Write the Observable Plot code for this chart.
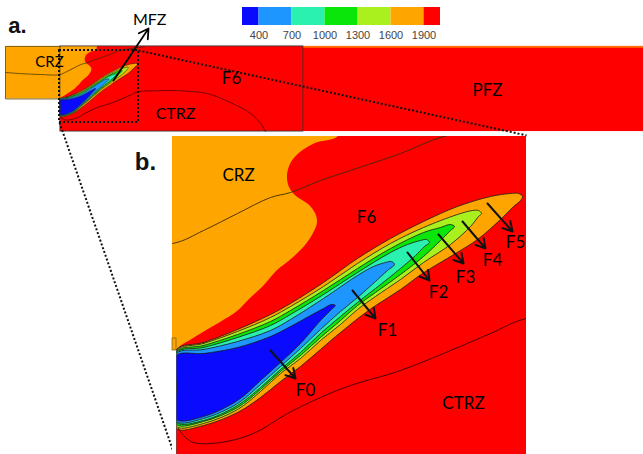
<!DOCTYPE html>
<html><head><meta charset="utf-8">
<script src="https://cdn.jsdelivr.net/npm/d3@7"></script>
<script src="https://cdn.jsdelivr.net/npm/@observablehq/plot@0.6"></script>
<style>
html,body{margin:0;padding:0;background:#fff;overflow:hidden;}
#fig{position:relative;width:643px;height:454px;}
#fig svg{position:absolute;left:0;top:0;}
</style></head><body><div id="fig"></div>
<script>
// ---- temperature colour levels (K) ----
const thresholds = [400, 700, 1000, 1300, 1600, 1900];
const palette = ["#0a0aff", "#1e96ff", "#2af0b0", "#0ae60a", "#aaf01e", "#ffa500", "#ff0000"];
const colorbarEdges = [250, 400, 700, 1000, 1300, 1600, 1900, 2050];
// representative temperature of each contour band
const tBlue = 300, tLightBlue = 550, tTeal = 850, tGreen = 1150, tYellowGreen = 1450, tOrange = 1750, tRed = 2000;

// ---- geometry, in zoom-window units (panel b = zoom of the dotted box) ----
const zoomX = [0, 354];
const zoomY = [0, 318];
const inletBox = [-242, 4, -18, 214];      // x1, x2, y1, y2
const chamberBox = [4, 2617, -18, 358];
const outlineBox = [4, 1093, -18, 358];
const pfzTopStrip = [1093, 2617, -18, -10];
const stepLip = [0, 4, 202, 214];
const wallGap = [0, 4, 214, 318];

// CRZ (orange) boundary, x as function of y
const crzBoundary = [[170,-18],[166,0],[143,7],[128,16],[119,26],[115,39],[117,51],[124,60],[136,68],[143,77],[145,86],[141,97],[133,109],[120,122],[104,135],[91,150],[78,162],[65,175],[48,186],[31,196],[18,204],[8,210],[4,214]];

// flame contour bands (closed outlines: upper edge to tip, lower edge back to wall)
const flameOrange = [[4,213],[31,206],[65,193],[98,178],[118,167],[151,146],[185,122],[218,102],[251,85],[285,70],[318,60],[338,57],[346,57],[350,60],[348,64],[340,71],[328,83],[305,103],[283,117],[250,137],[228,153],[196,174],[168,196],[148,213],[128,230],[108,245],[88,261],[65,276],[31,289],[4,292],[4,252]];
const flameYellowGreen = [[4,214],[31,207],[65,195],[98,181],[118,170],[151,150],[185,127],[218,107],[251,91],[285,78],[300,74],[306,74],[309,77],[306,80],[298,90],[278,108],[251,126],[228,143],[203,160],[185,173],[168,188],[148,204],[128,222],[108,237],[88,255],[65,273],[31,287],[4,290],[4,252]];
const flameGreen = [[4,215],[31,209],[65,198],[98,185],[118,174],[151,154],[185,132],[218,112],[251,96],[268,91],[278,88],[282,90],[278,94],[268,104],[251,120],[228,138],[203,156],[185,169],[168,184],[148,201],[128,219],[108,235],[88,253],[65,271],[31,285],[4,288],[4,251]];
const flameTeal = [[4,216],[31,211],[65,201],[98,189],[118,178],[151,158],[185,136],[218,116],[235,108],[248,104],[254,103],[257,106],[252,110],[243,119],[228,132],[203,152],[185,166],[168,180],[148,197],[128,216],[108,233],[88,251],[65,269],[31,284],[4,286],[4,250]];
const flameLightBlue = [[4,217],[31,213],[65,205],[98,194],[118,183],[151,162],[185,139],[201,130],[213,126],[219,125],[222,128],[215,134],[203,145],[185,161],[168,175],[148,193],[128,212],[108,230],[88,248],[65,267],[31,282],[4,285],[4,250]];
const flameBlue = [[4,219],[31,217],[65,211],[98,200],[118,190],[138,179],[151,172],[159,168],[163,169],[160,172],[148,184],[128,207],[108,226],[88,244],[65,264],[31,280],[4,283],[4,250]];

// iso-lines
const crzLine = [[-242,97],[-175,102],[-85,106],[0,107],[31,94],[65,77],[98,61],[118,56],[148,44],[178,34],[228,17],[271,0],[330,-10],[380,-17]];
const ctrzLine = [[6,292],[11,299],[21,306],[48,306],[81,297],[115,277],[148,261],[178,249],[228,234],[278,214],[318,197],[354,182],[430,178],[511,177],[590,181],[663,190],[766,230],[856,278],[901,322],[923,358]];

// panel b annotations
const bLabels = ["CRZ", "F6", "F0", "F1", "F2", "F3", "F4", "F5", "CTRZ"];
const bLabelX = [66, 194, 133, 215, 266, 293, 320, 343, 291];
const bLabelY = [39, 81, 254, 194, 156, 141, 124, 106, 267];
const fArrowX1 = [98, 180, 235, 266, 290, 315];
const fArrowY1 = [214, 154, 116, 98, 85, 67];
const fArrowX2 = [123, 203, 257, 291, 313, 340];
const fArrowY2 = [242, 182, 144, 127, 112, 95];

// panel a annotations
const aLabels = ["CRZ", "F6", "CTRZ", "PFZ", "MFZ"];
const aLabelX = [-45, 771, 520, 1918, 404];
const aLabelY = [53, 124, 278, 177, -137];
const aLabelSize = [15, 17, 16, 17, 16];
const mfzArrow = [242, 133, 399, -97];
const connectors = [[354, 0, 2093, 375], [0, 318, 515, 1785]];

const colorOpts = {type: "threshold", domain: thresholds, range: palette};
const fontLbl = "Lato, 'Open Sans', sans-serif";
const P = (d) => d[0], Q = (d) => d[1];

const bands = [
  [flameOrange, tOrange], [flameYellowGreen, tYellowGreen], [flameGreen, tGreen],
  [flameTeal, tTeal], [flameLightBlue, tLightBlue], [flameBlue, tBlue]
];
const bandMarks = (sw, clip) => bands.map(([pts, t]) =>
  Plot.line(pts, {x: P, y: Q, fill: () => t, stroke: "#1a1a1a", strokeWidth: sw, curve: "catmull-rom-closed", clip}));
const boxRect = (box, opts) => Plot.rect([box], {x1: d => d[0], x2: d => d[1], y1: d => d[2], y2: d => d[3], ...opts});

// ---------- panel a ----------
const A = Plot.plot({
  width: 643, height: 454, margin: 0,
  style: {background: "transparent"},
  x: {domain: zoomX, range: [59, 138], axis: null},
  y: {domain: zoomY, range: [50, 122], axis: null},
  color: colorOpts,
  marks: [
    boxRect(chamberBox, {fill: () => tRed}),
    boxRect(pfzTopStrip, {fill: () => tOrange, fillOpacity: 0.7}),
    boxRect(inletBox, {fill: () => tOrange}),
    Plot.areaX(crzBoundary, {y: Q, x1: 4, x2: P, fill: () => tOrange, curve: "catmull-rom"}),
    Plot.line([[4,-18],[-242,-18],[-242,214],[4,214]], {x: P, y: Q, stroke: "#6b5a1e", strokeWidth: 0.9}),
    ...bandMarks(0.5, false),
    Plot.line(crzLine, {x: P, y: Q, stroke: "#3a2a00", strokeWidth: 0.7, curve: "catmull-rom"}),
    Plot.line(ctrzLine, {x: P, y: Q, stroke: "#3a0000", strokeWidth: 0.7, curve: "catmull-rom"}),
    boxRect(outlineBox, {fill: "none", stroke: "#333", strokeWidth: 0.8}),
    Plot.rect([0], {x1: zoomX[0], x2: zoomX[1], y1: zoomY[0], y2: zoomY[1], fill: "none", stroke: "#111", strokeWidth: 2, strokeDasharray: "2 2"}),
    Plot.link(connectors, {x1: d => d[0], y1: d => d[1], x2: d => d[2], y2: d => d[3], stroke: "#111", strokeWidth: 2, strokeDasharray: "2 2"}),
    Plot.arrow([mfzArrow], {x1: d => d[0], y1: d => d[1], x2: d => d[2], y2: d => d[3], stroke: "#000", strokeWidth: 1.8, headLength: 9}),
    Plot.text(aLabels, {x: (d, i) => aLabelX[i], y: (d, i) => aLabelY[i], text: d => d, fontSize: (d, i) => aLabelSize[i], fontFamily: fontLbl, fill: "#000"}),
    Plot.text(["a."], {x: -188, y: -110, text: d => d, fontSize: 22, fontWeight: "bold", fontFamily: "'Liberation Sans', Arial, sans-serif", fill: "#111"})
  ]
});

// ---------- panel b ----------
const B = Plot.plot({
  width: 643, height: 454,
  marginLeft: 172, marginRight: 117, marginTop: 136, marginBottom: 0,
  style: {background: "transparent"},
  x: {domain: zoomX, axis: null},
  y: {domain: zoomY, reverse: true, axis: null},
  color: colorOpts,
  marks: [
    Plot.rect([0], {x1: zoomX[0], x2: zoomX[1], y1: zoomY[0], y2: zoomY[1], fill: () => tRed}),
    Plot.areaX(crzBoundary, {y: Q, x1: inletBox[0], x2: P, fill: () => tOrange, curve: "catmull-rom", clip: true}),
    ...bandMarks(0.8, true),
    Plot.line(crzLine, {x: P, y: Q, stroke: "#3a2a00", strokeWidth: 0.9, curve: "catmull-rom", clip: true}),
    Plot.line(ctrzLine, {x: P, y: Q, stroke: "#3a0000", strokeWidth: 0.9, curve: "catmull-rom", clip: true}),
    boxRect(wallGap, {fill: "#fff"}),
    Plot.line([[4,214],[4,318]], {x: P, y: Q, stroke: "#555", strokeWidth: 0.6}),
    boxRect(stepLip, {fill: "none", stroke: "#6b5a1e", strokeWidth: 0.7}),
    Plot.arrow(fArrowX1, {x1: d => d, y1: (d, i) => fArrowY1[i], x2: (d, i) => fArrowX2[i], y2: (d, i) => fArrowY2[i], stroke: "#111", strokeWidth: 2, headLength: 8}),
    Plot.text(bLabels, {x: (d, i) => bLabelX[i], y: (d, i) => bLabelY[i], text: d => d, fontSize: 17, fontFamily: fontLbl, fill: "#000"}),
    Plot.text(["b."], {x: -27, y: 26, text: d => d, fontSize: 24, fontWeight: "bold", fontFamily: "'Liberation Sans', Arial, sans-serif", fill: "#111"})
  ]
});

// ---------- colour bar ----------
const bins = d3.pairs(colorbarEdges);
const C = Plot.plot({
  width: 643, height: 454, margin: 0,
  style: {background: "transparent"},
  x: {domain: d3.extent(colorbarEdges), range: [242, 440], axis: null},
  y: {domain: [0, 1], range: [25, 7], axis: null},
  color: colorOpts,
  marks: [
    Plot.rect(bins, {x1: d => d[0], x2: d => d[1], y1: 0, y2: 1, fill: d => (d[0] + d[1]) / 2}),
    Plot.text(thresholds, {x: d => d, y: -0.55, text: d => String(d), fontSize: 11, fontFamily: "'Liberation Sans', Arial, sans-serif", fill: "#444"})
  ]
});

const fig = document.getElementById("fig");
fig.append(A, B, C);
</script>
</body></html>
